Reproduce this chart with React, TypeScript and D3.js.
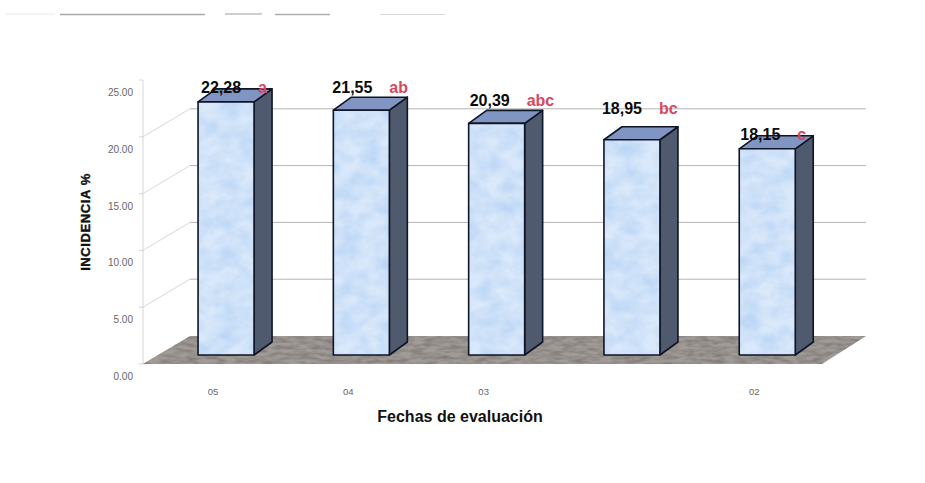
import React from "react";
import * as d3 from "d3";

// Incidence by evaluation date
const fechas = ["05", "04", "03", "", "02"];
const incidencia = [22.28, 21.55, 20.39, 18.95, 18.15];
const etiquetas = ["22,28", "21,55", "20,39", "18,95", "18,15"];
const grupos = ["a", "ab", "abc", "bc", "c"];
const ticks = [0, 5, 10, 15, 20, 25];

// Pixels each value label sits above the front top edge of its bar, and its sideways shift
const elevacionEtiqueta = [15, 23, 23, 32, 15];
const desplazamientoEtiqueta = [3, -1, 1, -2, 1];

const W = 925;
const H = 483;
const BAR_W = 56;
const DEPTH_X = 18;
const DEPTH_Y = 13;
const FLOOR_FRONT = 9; // front axis sits below the bar base
const FLOOR_BACK = 19; // back wall sits above the bar base
const AXIS_X = 143;
const BACK_X = 190;
const FONT = "'Liberation Sans', Arial, sans-serif";

const y = d3.scaleLinear().domain([0, 25]).range([355, 71]);
const x = d3.scaleBand().domain(d3.range(fechas.length).map(String)).range([158.4, 834.9]);
const barX = (i: number) => (x(String(i)) as number) + (x.bandwidth() - BAR_W) / 2;
const pts = (p: [number, number][]) => p.map((q) => q.join(",")).join(" ");

export default function App() {
  const base = y(0);
  const floorFront = base + FLOOR_FRONT;
  const floorBack = base - FLOOR_BACK;
  return (
    <svg
      width={W}
      height={H}
      viewBox={`0 0 ${W} ${H}`}
      style={{ position: "absolute", left: 0, top: 0, display: "block", background: "#fff" }}
    >
      <defs>
        <filter id="moteado" x="0" y="0" width="100%" height="100%" colorInterpolationFilters="sRGB">
          <feTurbulence type="fractalNoise" baseFrequency="0.05 0.07" numOctaves="3" seed="4" result="n" />
          <feColorMatrix
            in="n"
            type="matrix"
            values="0 0 0 0 0.72  0 0 0 0 0.83  0 0 0 0 0.96  1.6 0 0 0 -0.5"
            result="tinte"
          />
          <feComposite in="tinte" in2="SourceGraphic" operator="in" result="recorte" />
          <feMerge>
            <feMergeNode in="SourceGraphic" />
            <feMergeNode in="recorte" />
          </feMerge>
        </filter>
        <filter id="grano" x="0" y="0" width="100%" height="100%" colorInterpolationFilters="sRGB">
          <feTurbulence type="fractalNoise" baseFrequency="0.08 0.3" numOctaves="2" seed="9" result="n" />
          <feColorMatrix
            in="n"
            type="matrix"
            values="0 0 0 0 0.50  0 0 0 0 0.47  0 0 0 0 0.47  2 0 0 0 -0.7"
            result="tinte"
          />
          <feComposite in="tinte" in2="SourceGraphic" operator="in" result="recorte" />
          <feMerge>
            <feMergeNode in="SourceGraphic" />
            <feMergeNode in="recorte" />
          </feMerge>
        </filter>
      </defs>

      {/* Scanned rule along the top of the page */}
      <g stroke="#8c8c8c" fill="none">
        <line x1={60} x2={205} y1={14.5} y2={14.5} strokeWidth={1.4} opacity={0.75} />
        <line x1={225} x2={262} y1={14} y2={14} strokeWidth={1.2} opacity={0.85} />
        <line x1={275} x2={330} y1={14.5} y2={14.5} strokeWidth={1.4} opacity={0.7} />
        <line x1={380} x2={445} y1={14.5} y2={14.5} strokeWidth={1} opacity={0.35} />
        <line x1={5} x2={55} y1={14} y2={14} strokeWidth={1} opacity={0.2} />
      </g>

      {/* Back wall gridlines and their diagonals on the side wall */}
      <g fill="none" strokeWidth={1}>
        {ticks.slice(1, 5).map((t) => (
          <g key={t}>
            <line x1={BACK_X} x2={866} y1={y(t) - FLOOR_BACK} y2={y(t) - FLOOR_BACK} stroke="#b4b5b3" />
            <line
              x1={AXIS_X}
              x2={BACK_X}
              y1={y(t) + FLOOR_FRONT}
              y2={y(t) - FLOOR_BACK}
              stroke="#d8d8d6"
            />
          </g>
        ))}
        <line x1={AXIS_X} x2={AXIS_X} y1={y(25) + FLOOR_FRONT} y2={floorFront} stroke="#d6d6d4" />
        {ticks.map((t) => (
          <line key={t} x1={AXIS_X - 4} x2={AXIS_X} y1={y(t) + FLOOR_FRONT} y2={y(t) + FLOOR_FRONT} stroke="#d6d6d4" />
        ))}
      </g>

      {/* Floor */}
      <polygon
        points={pts([
          [AXIS_X, floorFront],
          [822, floorFront],
          [866, floorBack],
          [BACK_X, floorBack],
        ])}
        fill="#a09b96"
        filter="url(#grano)"
      />

      {/* Y axis labels */}
      <g fontFamily={FONT} fontSize={10} fill="#666" textAnchor="end">
        {ticks.map((t) => (
          <text key={t} x={133} y={y(t) + FLOOR_FRONT + 16}>
            {t.toFixed(2)}
          </text>
        ))}
      </g>

      {/* Bars */}
      {incidencia.map((v, i) => {
        const x0 = barX(i);
        const x1 = x0 + BAR_W;
        const top = y(v);
        return (
          <g key={i} stroke="#0e1526" strokeWidth={1.6} strokeLinejoin="round">
            <polygon
              points={pts([
                [x1, top],
                [x1 + DEPTH_X, top - DEPTH_Y],
                [x1 + DEPTH_X, base - DEPTH_Y],
                [x1, base],
              ])}
              fill="#4f5a6f"
            />
            <polygon
              points={pts([
                [x0, top],
                [x0 + DEPTH_X, top - DEPTH_Y],
                [x1 + DEPTH_X, top - DEPTH_Y],
                [x1, top],
              ])}
              fill="#8195c2"
            />
            <rect x={x0} y={top} width={BAR_W} height={base - top} fill="#d9e8fa" filter="url(#moteado)" stroke="none" />
            <rect x={x0} y={top} width={BAR_W} height={base - top} fill="none" />
          </g>
        );
      })}

      {/* Value and grouping labels */}
      <g fontFamily={FONT} fontSize={16} fontWeight={700}>
        {incidencia.map((v, i) => {
          const x0 = barX(i);
          const ly = y(v) - elevacionEtiqueta[i] + 6;
          const dx = desplazamientoEtiqueta[i];
          return (
            <g key={i}>
              <text x={x0 + dx} y={ly} fill="#0b0b0b">
                {etiquetas[i]}
              </text>
              <text x={x0 + BAR_W + dx + 1} y={ly} fill="#d8475f">
                {grupos[i]}
              </text>
            </g>
          );
        })}
      </g>

      {/* Category labels */}
      <g fontFamily={FONT} fontSize={9.5} fill="#666" textAnchor="middle">
        {fechas.map((f, i) => (
          <text key={i} x={barX(i) + BAR_W / 2 - 13} y={395}>
            {f}
          </text>
        ))}
      </g>

      {/* Axis titles */}
      <text
        transform="translate(90,222) rotate(-90)"
        textAnchor="middle"
        fontFamily={FONT}
        fontSize={13}
        fontWeight={700}
        fill="#111"
        stroke="#111"
        strokeWidth={0.4}
        letterSpacing={0.6}
      >
        INCIDENCIA %
      </text>
      <text x={460} y={422} textAnchor="middle" fontFamily={FONT} fontSize={16} fontWeight={700} fill="#111">
        Fechas de evaluación
      </text>
    </svg>
  );
}
